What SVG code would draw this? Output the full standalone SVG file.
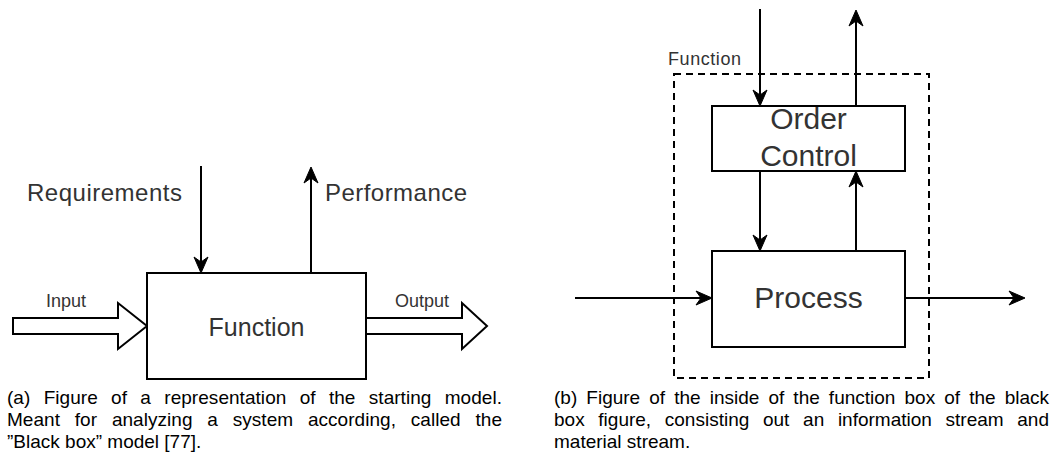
<svg xmlns="http://www.w3.org/2000/svg" width="1054" height="465" viewBox="0 0 1054 465">
<style>
.box{fill:#fff;stroke:#000;stroke-width:2}
.dash{fill:none;stroke:#000;stroke-width:2;stroke-dasharray:7 5}
.ln{fill:none;stroke:#000;stroke-width:2}
.blk{fill:#fff;stroke:#000;stroke-width:2;stroke-linejoin:miter}
.lbl{font-family:"Liberation Sans",Arial,sans-serif;fill:#333}
.cap{font-family:"Liberation Sans",Arial,sans-serif;font-size:19px;fill:#000}
</style>
<defs>
<marker id="ah" markerUnits="userSpaceOnUse" viewBox="-18 -10 20 20" markerWidth="20" markerHeight="20" refX="-8" refY="0" orient="auto">
<path d="M0,0 L-16,-7 L-11,0 L-16,7 Z" fill="#000" stroke="#000" stroke-width="1" stroke-linejoin="miter"/>
</marker>
</defs>
<rect width="1054" height="465" fill="#fff"/>

<!-- Left diagram -->
<g id="connectors-left">
<line class="ln" x1="201" y1="166" x2="201" y2="265" marker-end="url(#ah)"/>
<line class="ln" x1="311" y1="273" x2="311" y2="175" marker-end="url(#ah)"/>
<polygon class="blk" points="13,318 118,318 118,303 147,326 118,349 118,334 13,334"/>
<polygon class="blk" points="366,318 462,318 462,303 487,326 462,349 462,334 366,334"/>
</g>
<g id="node-function">
<rect class="box" x="147" y="273" width="219" height="106"/>
<text class="lbl" x="256.5" y="336" font-size="25" text-anchor="middle">Function</text>
</g>
<g id="labels-left">
<text class="lbl" x="27" y="201" font-size="24" textLength="155">Requirements</text>
<text class="lbl" x="325" y="201" font-size="24" textLength="142">Performance</text>
<text class="lbl" x="46" y="307" font-size="18">Input</text>
<text class="lbl" x="395" y="307" font-size="18">Output</text>
</g>

<!-- Right diagram -->
<g id="node-function-boundary">
<rect class="dash" x="674" y="74" width="255" height="304"/>
<text class="lbl" x="668" y="65" font-size="18" textLength="73">Function</text>
</g>
<g id="connectors-right">
<line class="ln" x1="760" y1="9" x2="760" y2="98" marker-end="url(#ah)"/>
<line class="ln" x1="856" y1="106" x2="856" y2="18" marker-end="url(#ah)"/>
<line class="ln" x1="760" y1="171" x2="760" y2="243" marker-end="url(#ah)"/>
<line class="ln" x1="856" y1="251" x2="856" y2="179" marker-end="url(#ah)"/>
<line class="ln" x1="575" y1="298" x2="704" y2="298" marker-end="url(#ah)"/>
<line class="ln" x1="905" y1="298" x2="1017" y2="298" marker-end="url(#ah)"/>
</g>
<g id="node-order-control">
<rect class="box" x="712" y="106" width="193" height="65"/>
<text class="lbl" x="808.5" y="129" font-size="30" text-anchor="middle">Order</text>
<text class="lbl" x="808.5" y="166" font-size="30" text-anchor="middle">Control</text>
</g>
<g id="node-process">
<rect class="box" x="712" y="251" width="193" height="96"/>
<text class="lbl" x="808.5" y="308" font-size="30" text-anchor="middle">Process</text>
</g>

<!-- Captions -->
<g id="caption-a">
<text class="cap" x="7" y="404" word-spacing="8" textLength="495" lengthAdjust="spacing">(a) Figure of a representation of the starting model.</text>
<text class="cap" x="7" y="426" word-spacing="9.5" textLength="495" lengthAdjust="spacing">Meant for analyzing a system according, called the</text>
<text class="cap" x="7" y="448">”Black box” model [77].</text>
</g>
<g id="caption-b">
<text class="cap" x="554" y="404" word-spacing="3.8" textLength="495" lengthAdjust="spacing">(b) Figure of the inside of the function box of the black</text>
<text class="cap" x="554" y="426" word-spacing="8.4" textLength="495" lengthAdjust="spacing">box figure, consisting out an information stream and</text>
<text class="cap" x="554" y="448">material stream.</text>
</g>
</svg>
